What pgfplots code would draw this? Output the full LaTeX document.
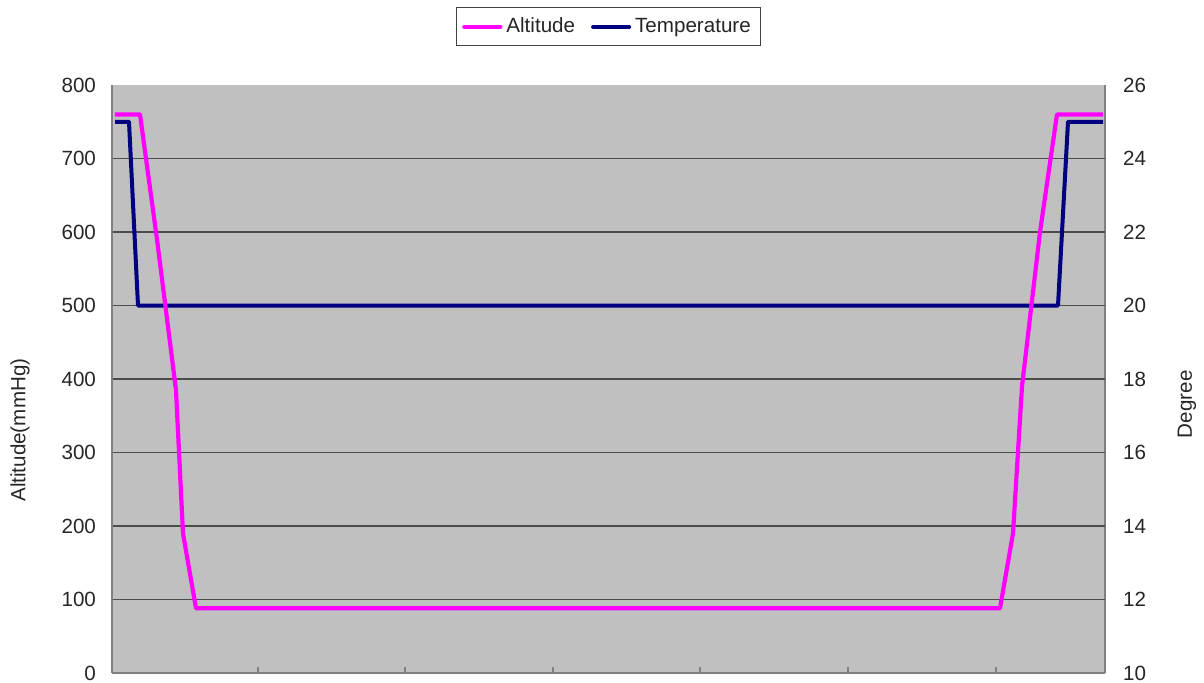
\documentclass[border=0pt]{standalone}
\usepackage{pgfplots}
\pgfplotsset{compat=1.18}
\usepackage{fontspec}
\setmainfont{Liberation Sans}
\definecolor{bg}{HTML}{C0C0C0}
\definecolor{axisgray}{HTML}{808080}
\definecolor{alt}{HTML}{FF00FF}
\definecolor{temp}{HTML}{000080}
\newcommand{\fs}{\fontsize{10.3}{12}\selectfont}
\begin{document}
\begin{tikzpicture}
\useasboundingbox (-56pt,-4.5pt) rectangle (546pt,336.5pt);
\begin{axis}[
  at={(0,0)}, anchor=south west, scale only axis,
  width=496.5pt, height=294pt,
  xmin=112, xmax=1105, ymin=10, ymax=26,
  axis x line*=bottom, axis y line*=right,
  axis line style={draw=axisgray, line width=0.9pt},
  axis background/.style={fill=bg},
  xtick={258,405,553,700,848,996}, xticklabels={},
  xtick style={draw=axisgray, line width=0.8pt},
  tick align=inside, major tick length=3pt,
  ytick={10,12,...,26}, ytick style={draw=none},
  extra y ticks={12,14,...,24}, extra y tick labels={},
  extra y tick style={grid=major, major grid style={draw=black!70, line width=0.75pt}},
  /pgf/number format/assume math mode=true,
  ticklabel style={font=\fs, text=black!85},
  yticklabel style={xshift=5.5pt},
  every axis y label/.style={at={(rel axis cs:1.0826,0.457)}, rotate=90, anchor=center, font=\fs, text=black!85},
  ylabel={Degree},
  clip=false,
]
\addplot[temp, line width=2pt, line join=round] coordinates {
(115,25) (129,25) (138,20) (1058,20) (1068,25) (1103,25)
};
\end{axis}
\begin{axis}[
  at={(0,0)}, anchor=south west, scale only axis,
  width=496.5pt, height=294pt,
  xmin=112, xmax=1105, ymin=0, ymax=800,
  axis x line=none, axis y line*=left,
  axis line style={draw=axisgray, line width=0.9pt},
  ytick={0,100,...,800}, ytick style={draw=none},
  /pgf/number format/assume math mode=true,
  ticklabel style={font=\fs, text=black!85},
  yticklabel style={xshift=-4.5pt},
  every axis y label/.style={at={(rel axis cs:-0.0926,0.413)}, rotate=90, anchor=center, font=\fs, text=black!85},
  ylabel={Altitude(mmHg)},
  legend columns=2,
  legend style={at={(0.5,1.066)}, anchor=south, draw=black!75, fill=white, font=\fs, text=black!85,
    /tikz/every even column/.append style={column sep=6pt}, inner ysep=3pt},
  legend image code/.code={\draw[#1, line cap=round] (0pt,0pt) -- (18pt,0pt);},
  clip=false,
]
\addplot[alt, line width=2.1pt, line join=round] coordinates {
(115,760) (140,760) (157,590) (176,385) (183,190) (196,88) (1000,88) (1013,190) (1022,390) (1040,600) (1057,760) (1103,760)
};
\addlegendentry{Altitude}
\addlegendimage{temp, line width=2pt}
\addlegendentry{Temperature}
\end{axis}
\end{tikzpicture}
\end{document}
